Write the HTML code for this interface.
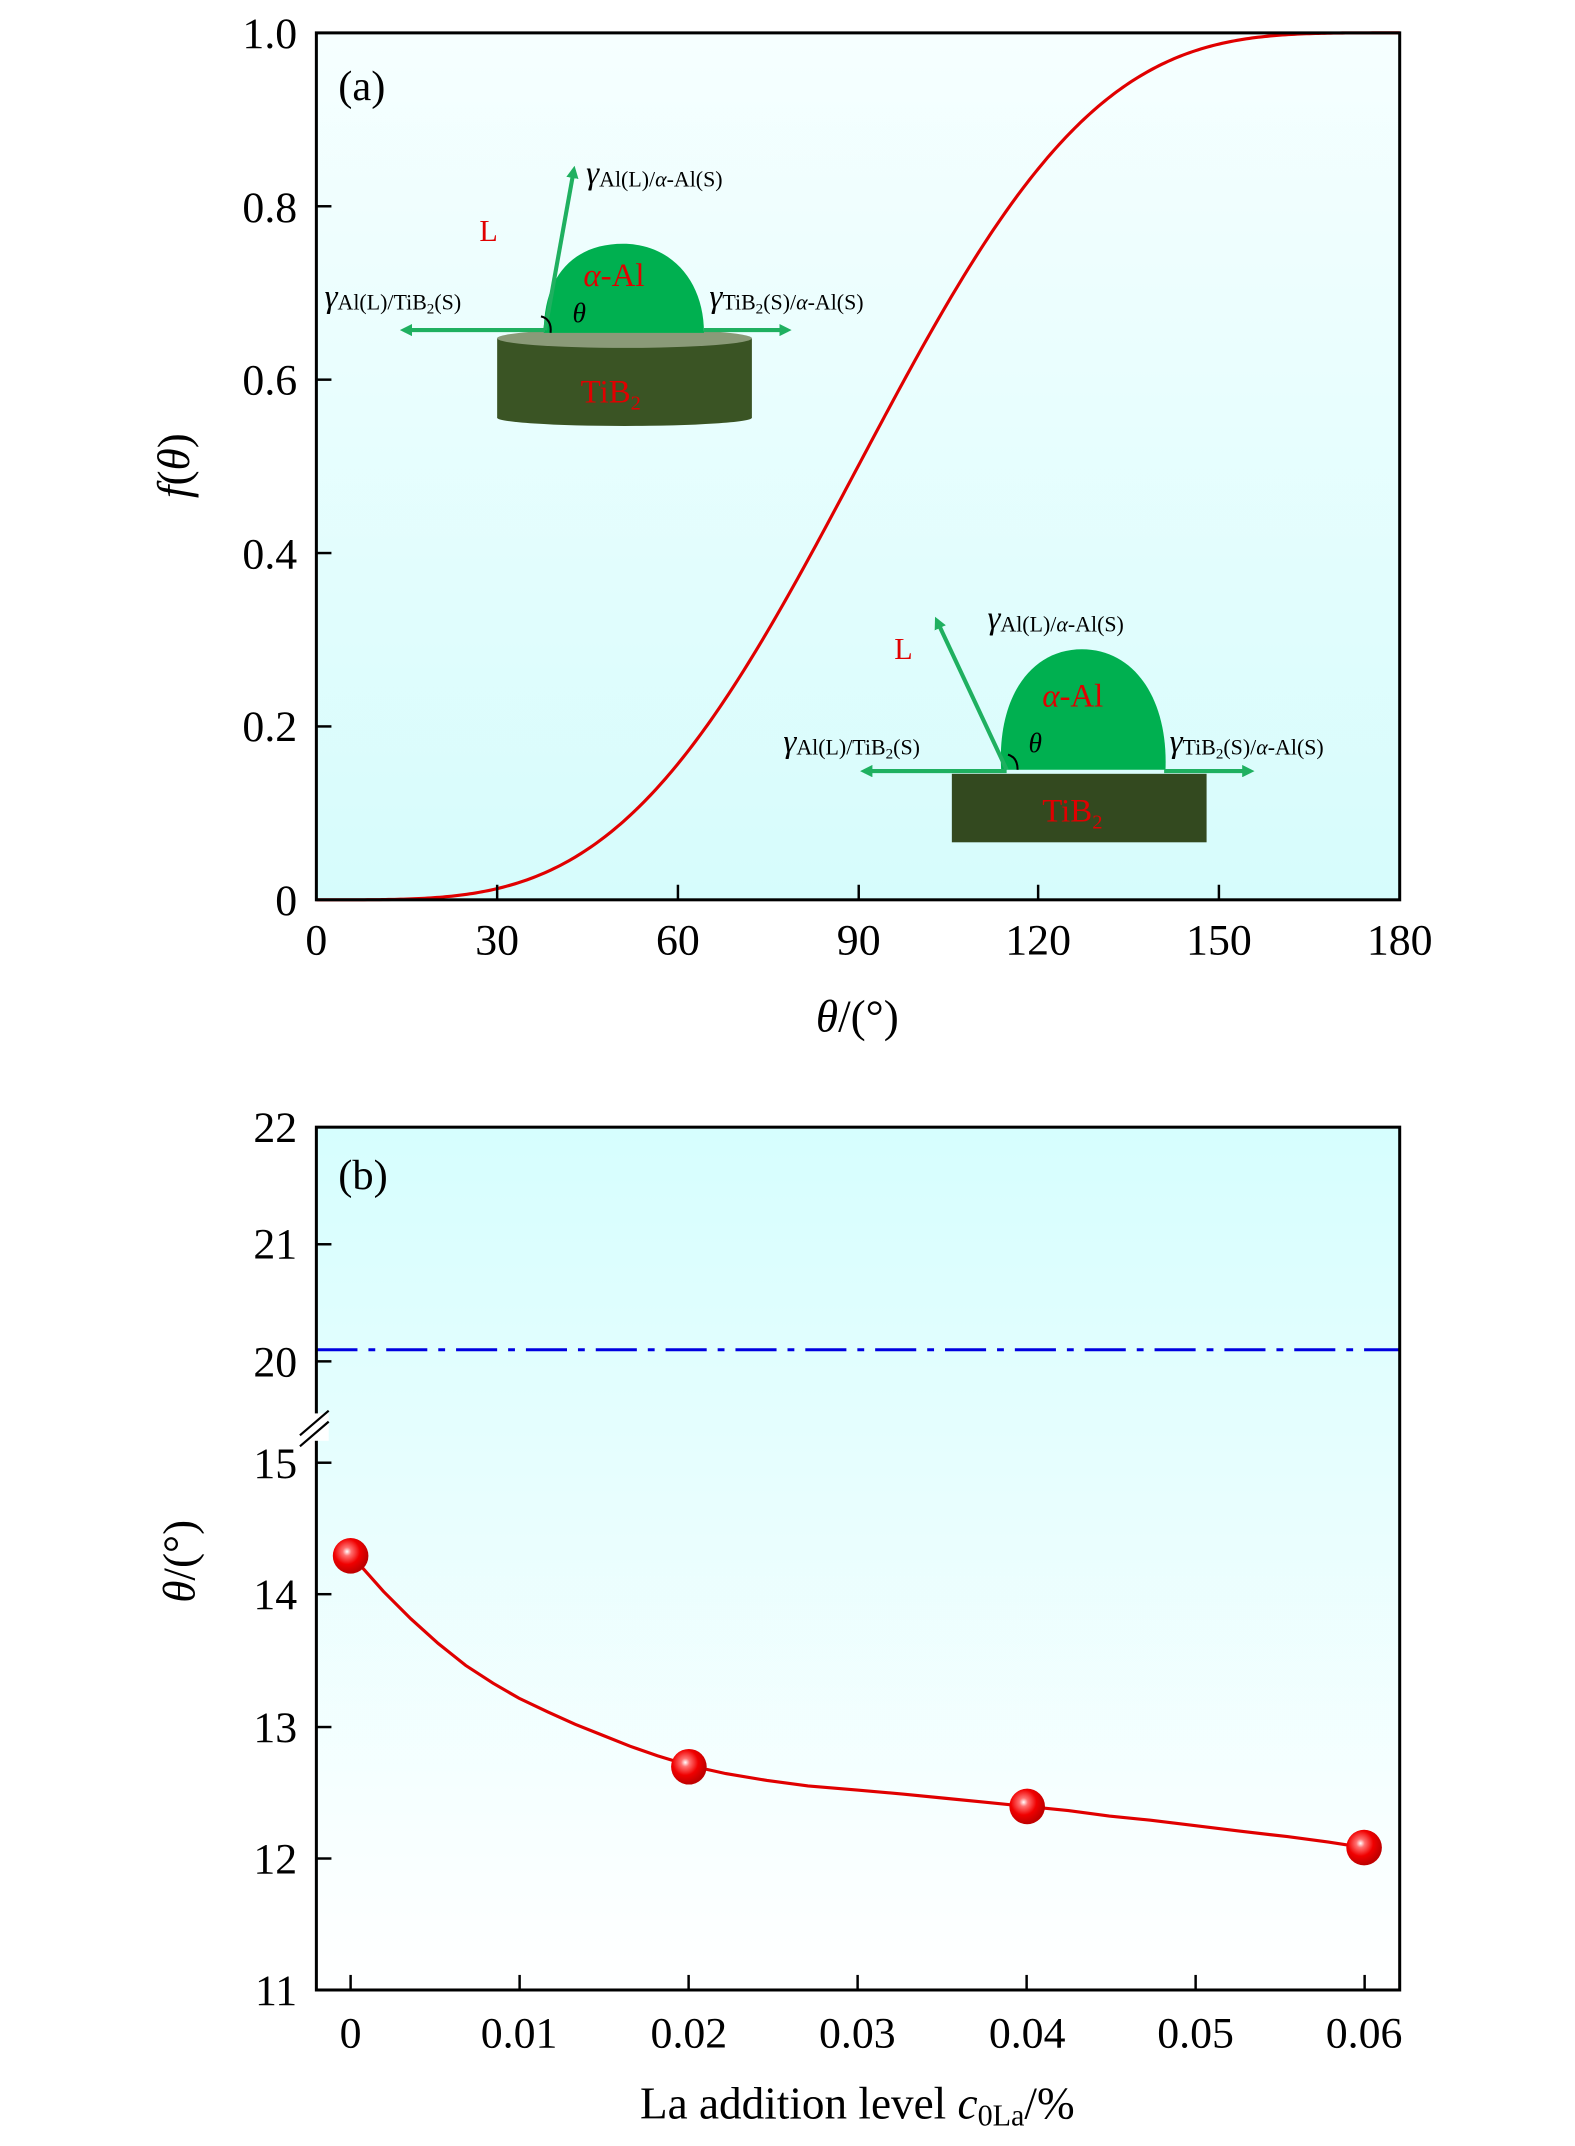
<!DOCTYPE html>
<html><head><meta charset="utf-8"><style>
html,body{margin:0;padding:0;background:#fff;}
svg{display:block;}
text{font-family:"Liberation Serif",serif;fill:#000;}
</style></head><body>
<svg width="1575" height="2146" viewBox="0 0 1150 1566.9" xmlns="http://www.w3.org/2000/svg">
<defs>
<linearGradient id="g1" x1="0" y1="0" x2="0" y2="1"><stop offset="0" stop-color="#f6ffff"/><stop offset="1" stop-color="#d6fcfc"/></linearGradient>
<linearGradient id="g2" x1="0" y1="0" x2="0" y2="1"><stop offset="0" stop-color="#d6fefe"/><stop offset="1" stop-color="#ffffff"/></linearGradient>
<radialGradient id="ball" cx="0.4" cy="0.38" r="0.6"><stop offset="0" stop-color="#ffffff"/><stop offset="0.2" stop-color="#ff7070"/><stop offset="0.6" stop-color="#f00000"/><stop offset="1" stop-color="#c00000"/></radialGradient>
<marker id="ah" markerWidth="9" markerHeight="9" refX="6" refY="4.5" orient="auto" markerUnits="userSpaceOnUse" viewBox="0 0 9 9"><path d="M0,0 L9,4.5 L0,9 Z" fill="#1fb060"/></marker>
</defs>

<!-- Panel a -->
<rect x="231" y="24" width="791" height="633" fill="url(#g1)"/>
<!-- inset 1 -->
<rect x="363" y="247" width="186" height="58" fill="#3a5424"/>
<ellipse cx="456" cy="305" rx="93" ry="6" fill="#3a5424"/>
<ellipse cx="456" cy="247" rx="93" ry="7" fill="#8a9a78"/>
<path d="M397,243 C397,200 420,178 455,178 C490,178 514,205 514,243 Z" fill="#00b050"/>
<line x1="398" y1="241" x2="295" y2="241" stroke="#1fb060" stroke-width="3" marker-end="url(#ah)"/>
<line x1="514" y1="241" x2="575" y2="241" stroke="#1fb060" stroke-width="3" marker-end="url(#ah)"/>
<line x1="398" y1="241" x2="419" y2="124" stroke="#1fb060" stroke-width="3" marker-end="url(#ah)"/>
<path d="M395,231 q8,2 7,12" fill="none" stroke="#000" stroke-width="1.5"/>
<text x="350" y="176" font-size="22" style="fill:#e00000">L</text>
<text x="426" y="209" font-size="24" style="fill:#e00000;font-style:italic">α<tspan style="font-style:normal">-Al</tspan></text>
<text x="424" y="294" font-size="24" style="fill:#e00000">TiB<tspan font-size="15" dy="5">2</tspan></text>
<text x="418" y="235" font-size="20" font-style="italic">θ</text>
<text x="428" y="134" font-size="24" font-style="italic">γ<tspan font-size="16" font-style="normal" dy="2">Al(L)/<tspan font-style="italic">α</tspan>-Al(S)</tspan></text>
<text x="237" y="224" font-size="24" font-style="italic">γ<tspan font-size="16" font-style="normal" dy="2">Al(L)/TiB<tspan font-size="11" dy="3">2</tspan><tspan dy="-3">(S)</tspan></tspan></text>
<text x="518" y="224" font-size="24" font-style="italic">γ<tspan font-size="16" font-style="normal" dy="2">TiB<tspan font-size="11" dy="3">2</tspan><tspan dy="-3">(S)/</tspan><tspan font-style="italic">α</tspan>-Al(S)</tspan></text>
<!-- inset 2 -->
<rect x="695" y="565" width="186" height="50" fill="#33491f"/>
<path d="M731,562 C728,510 752,474 790,474 C828,474 853,510 851,562 Z" fill="#00b050"/>
<line x1="735" y1="563" x2="631" y2="563" stroke="#1fb060" stroke-width="3" marker-end="url(#ah)"/>
<line x1="850" y1="563" x2="913" y2="563" stroke="#1fb060" stroke-width="3" marker-end="url(#ah)"/>
<line x1="735" y1="562" x2="684" y2="453" stroke="#1fb060" stroke-width="3" marker-end="url(#ah)"/>
<path d="M736,551 q7,2 7,11" fill="none" stroke="#000" stroke-width="1.5"/>
<text x="653" y="481" font-size="22" style="fill:#e00000">L</text>
<text x="761" y="516" font-size="24" style="fill:#e00000;font-style:italic">α<tspan style="font-style:normal">-Al</tspan></text>
<text x="761" y="600" font-size="24" style="fill:#e00000">TiB<tspan font-size="15" dy="5">2</tspan></text>
<text x="751" y="549" font-size="20" font-style="italic">θ</text>
<text x="721" y="459" font-size="24" font-style="italic">γ<tspan font-size="16" font-style="normal" dy="2">Al(L)/<tspan font-style="italic">α</tspan>-Al(S)</tspan></text>
<text x="572" y="549" font-size="24" font-style="italic">γ<tspan font-size="16" font-style="normal" dy="2">Al(L)/TiB<tspan font-size="11" dy="3">2</tspan><tspan dy="-3">(S)</tspan></tspan></text>
<text x="854" y="549" font-size="24" font-style="italic">γ<tspan font-size="16" font-style="normal" dy="2">TiB<tspan font-size="11" dy="3">2</tspan><tspan dy="-3">(S)/</tspan><tspan font-style="italic">α</tspan>-Al(S)</tspan></text>

<path id="fcurve" d="" fill="none" stroke="#e00000" stroke-width="2.3"/>
<rect x="231" y="24" width="791" height="633" fill="none" stroke="#000" stroke-width="2.2"/>
<g stroke="#000" stroke-width="1.8">
<line x1="363" y1="657" x2="363" y2="646"/><line x1="495" y1="657" x2="495" y2="646"/><line x1="627" y1="657" x2="627" y2="646"/><line x1="758" y1="657" x2="758" y2="646"/><line x1="890" y1="657" x2="890" y2="646"/>
<line x1="231" y1="150.6" x2="242" y2="150.6"/><line x1="231" y1="277.2" x2="242" y2="277.2"/><line x1="231" y1="403.8" x2="242" y2="403.8"/><line x1="231" y1="530.4" x2="242" y2="530.4"/>
</g>
<g font-size="32" text-anchor="middle">
<text x="231" y="697">0</text><text x="363" y="697">30</text><text x="495" y="697">60</text><text x="627" y="697">90</text><text x="758" y="697">120</text><text x="890" y="697">150</text><text x="1022" y="697">180</text>
</g>
<g font-size="32" text-anchor="end">
<text x="217" y="35">1.0</text><text x="217" y="162">0.8</text><text x="217" y="288">0.6</text><text x="217" y="415">0.4</text><text x="217" y="541">0.2</text><text x="217" y="668">0</text>
</g>
<text x="247" y="73" font-size="31">(a)</text>
<text x="626" y="753" font-size="33" text-anchor="middle"><tspan font-style="italic">θ</tspan>/(°)</text>
<text transform="translate(138,340) rotate(-90)" font-size="33" text-anchor="middle"><tspan font-style="italic">f</tspan>(<tspan font-style="italic">θ</tspan>)</text>

<!-- Panel b -->
<rect x="231" y="823" width="791" height="630" fill="url(#g2)"/>
<line x1="231" y1="985.5" x2="1022" y2="985.5" stroke="#0000e0" stroke-width="2.2" stroke-dasharray="30,8,5,8"/>
<polyline fill="none" stroke="#e00000" stroke-width="2.3" points="256,1135 280,1162 300,1182 320,1200 340,1216 360,1229 379,1240 400,1250 420,1259 440,1267 460,1275 480,1282 503,1289 530,1295 560,1300 590,1304 626,1307 660,1310 690,1313 720,1316 750,1319 780,1322 810,1326 840,1329 873,1333 905,1337 940,1341 970,1345 996,1349"/>
<g fill="url(#ball)">
<ellipse cx="256" cy="1136" rx="13" ry="13"/><ellipse cx="503" cy="1290" rx="13" ry="13"/><ellipse cx="750" cy="1319" rx="13" ry="13"/><ellipse cx="996" cy="1349" rx="13" ry="13"/>
</g>
<rect x="231" y="823" width="791" height="630" fill="none" stroke="#000" stroke-width="2.2"/>
<rect x="222" y="1032" width="18" height="20" fill="#fff"/>
<line x1="219" y1="1048" x2="240" y2="1030" stroke="#000" stroke-width="1.6"/>
<line x1="219" y1="1056" x2="240" y2="1038" stroke="#000" stroke-width="1.6"/>
<g stroke="#000" stroke-width="1.8">
<line x1="256" y1="1453" x2="256" y2="1442"/><line x1="379.4" y1="1453" x2="379.4" y2="1442"/><line x1="502.8" y1="1453" x2="502.8" y2="1442"/><line x1="626.2" y1="1453" x2="626.2" y2="1442"/><line x1="749.6" y1="1453" x2="749.6" y2="1442"/><line x1="873" y1="1453" x2="873" y2="1442"/><line x1="996.4" y1="1453" x2="996.4" y2="1442"/>
<line x1="231" y1="908.5" x2="242" y2="908.5"/><line x1="231" y1="994" x2="242" y2="994"/><line x1="231" y1="1068" x2="242" y2="1068"/><line x1="231" y1="1164" x2="242" y2="1164"/><line x1="231" y1="1261" x2="242" y2="1261"/><line x1="231" y1="1357" x2="242" y2="1357"/>
</g>
<g font-size="32" text-anchor="middle">
<text x="256" y="1495">0</text><text x="379" y="1495">0.01</text><text x="503" y="1495">0.02</text><text x="626" y="1495">0.03</text><text x="750" y="1495">0.04</text><text x="873" y="1495">0.05</text><text x="996" y="1495">0.06</text>
</g>
<g font-size="32" text-anchor="end">
<text x="217" y="834">22</text><text x="217" y="919">21</text><text x="217" y="1005">20</text><text x="217" y="1079">15</text><text x="217" y="1175">14</text><text x="217" y="1272">13</text><text x="217" y="1368">12</text><text x="217" y="1464">11</text>
</g>
<text x="247" y="868" font-size="31">(b)</text>
<text x="626" y="1547" font-size="33" text-anchor="middle">La addition level <tspan font-style="italic">c</tspan><tspan font-size="22" dy="5">0La</tspan><tspan dy="-5">/%</tspan></text>
<text transform="translate(142,1140) rotate(-90)" font-size="33" text-anchor="middle"><tspan font-style="italic">θ</tspan>/(°)</text>
</svg>
<script>
(function(){
var d="";for(var i=0;i<=360;i++){var t=i/2;var r=t*Math.PI/180;var c=Math.cos(r);var f=(2+c)*(1-c)*(1-c)/4;
var x=231+t*791/180;var y=657-f*633;d+=(i?"L":"M")+x.toFixed(2)+","+y.toFixed(2);}
document.getElementById("fcurve").setAttribute("d",d);})();
</script>
</body></html>
